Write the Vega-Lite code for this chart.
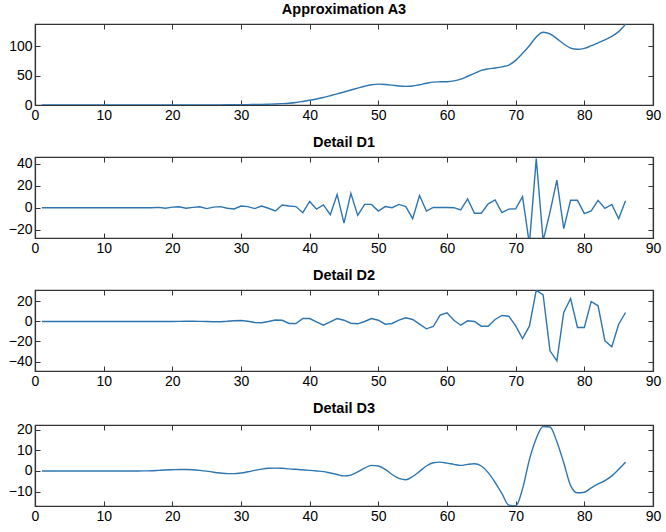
{
  "$schema": "https://vega.github.io/schema/vega-lite/v6.json",
  "description": "Wavelet decomposition: approximation A3 and details D1-D3",
  "padding": {"left": 7, "top": 1, "right": 2, "bottom": 2},
  "spacing": 11,
  "background": "white",
  "data": {
    "values": [
      {"x": 1, "a3": 0, "d1": 0, "d2": 0, "d3": 0},
      {"x": 2, "a3": 0, "d1": 0, "d2": 0, "d3": 0},
      {"x": 3, "a3": 0, "d1": 0, "d2": 0, "d3": 0},
      {"x": 4, "a3": 0, "d1": 0, "d2": 0, "d3": 0},
      {"x": 5, "a3": 0, "d1": 0, "d2": 0, "d3": 0},
      {"x": 6, "a3": 0, "d1": 0, "d2": 0, "d3": 0},
      {"x": 7, "a3": 0, "d1": 0, "d2": 0, "d3": 0},
      {"x": 8, "a3": 0, "d1": 0, "d2": 0, "d3": 0},
      {"x": 9, "a3": 0, "d1": 0, "d2": 0, "d3": 0},
      {"x": 10, "a3": 0, "d1": 0, "d2": 0, "d3": 0},
      {"x": 11, "a3": 0, "d1": 0, "d2": 0, "d3": 0},
      {"x": 12, "a3": 0, "d1": 0, "d2": 0, "d3": 0},
      {"x": 13, "a3": 0, "d1": 0, "d2": 0, "d3": 0},
      {"x": 14, "a3": 0, "d1": 0, "d2": 0, "d3": 0},
      {"x": 15, "a3": 0, "d1": 0, "d2": 0, "d3": 0},
      {"x": 16, "a3": 0, "d1": 0, "d2": 0, "d3": 0.05},
      {"x": 17, "a3": 0, "d1": 0, "d2": 0, "d3": 0.1},
      {"x": 18, "a3": 0, "d1": 0.3, "d2": 0, "d3": 0.3},
      {"x": 19, "a3": 0, "d1": -0.5, "d2": 0, "d3": 0.5},
      {"x": 20, "a3": 0, "d1": 0.5, "d2": 0, "d3": 0.6},
      {"x": 21, "a3": 0, "d1": 0.8, "d2": 0.1, "d3": 0.7},
      {"x": 22, "a3": 0, "d1": -0.5, "d2": 0.2, "d3": 0.7},
      {"x": 23, "a3": 0, "d1": 0.3, "d2": 0.2, "d3": 0.6},
      {"x": 24, "a3": 0, "d1": 0.8, "d2": 0.1, "d3": 0.3},
      {"x": 25, "a3": 0, "d1": -0.8, "d2": 0, "d3": -0.1},
      {"x": 26, "a3": 0.1, "d1": 0.5, "d2": -0.2, "d3": -0.6},
      {"x": 27, "a3": 0.2, "d1": 1, "d2": -0.2, "d3": -1},
      {"x": 28, "a3": 0.3, "d1": -0.5, "d2": 0.2, "d3": -1.3},
      {"x": 29, "a3": 0.4, "d1": -1.2, "d2": 0.8, "d3": -1.3},
      {"x": 30, "a3": 0.5, "d1": 1.5, "d2": 1, "d3": -1},
      {"x": 31, "a3": 0.7, "d1": 1, "d2": 0.3, "d3": -0.4},
      {"x": 32, "a3": 0.9, "d1": -0.8, "d2": -1, "d3": 0.3},
      {"x": 33, "a3": 1.1, "d1": 1.5, "d2": -1.3, "d3": 0.9},
      {"x": 34, "a3": 1.4, "d1": -0.5, "d2": 0, "d3": 1.3},
      {"x": 35, "a3": 1.8, "d1": -3, "d2": 1.5, "d3": 1.4},
      {"x": 36, "a3": 2.3, "d1": 2.5, "d2": 1.2, "d3": 1.3},
      {"x": 37, "a3": 3, "d1": 1.5, "d2": -2, "d3": 1},
      {"x": 38, "a3": 4.2, "d1": 1, "d2": -2, "d3": 0.8},
      {"x": 39, "a3": 6, "d1": -4.5, "d2": 3, "d3": 0.6},
      {"x": 40, "a3": 8, "d1": 5.7, "d2": 3, "d3": 0.3},
      {"x": 41, "a3": 10.3, "d1": -1.3, "d2": -0.3, "d3": 0},
      {"x": 42, "a3": 12.8, "d1": 2.5, "d2": -3.7, "d3": -0.3},
      {"x": 43, "a3": 15.8, "d1": -6.3, "d2": -0.3, "d3": -1},
      {"x": 44, "a3": 19, "d1": 12, "d2": 3, "d3": -1.7},
      {"x": 45, "a3": 22.2, "d1": -14, "d2": 1.3, "d3": -2.4},
      {"x": 46, "a3": 25.5, "d1": 13, "d2": -1.7, "d3": -2},
      {"x": 47, "a3": 28.8, "d1": -7, "d2": -2.3, "d3": -0.5},
      {"x": 48, "a3": 32, "d1": 3, "d2": 0, "d3": 1.4},
      {"x": 49, "a3": 34.5, "d1": 3, "d2": 3, "d3": 2.7},
      {"x": 50, "a3": 35.5, "d1": -3, "d2": 1.3, "d3": 2.4},
      {"x": 51, "a3": 35, "d1": 1, "d2": -2.7, "d3": 0.8},
      {"x": 52, "a3": 33.8, "d1": 0, "d2": -2, "d3": -1.7},
      {"x": 53, "a3": 32.3, "d1": 3, "d2": 1.3, "d3": -3.6},
      {"x": 54, "a3": 31.7, "d1": 1, "d2": 3.7, "d3": -4.3},
      {"x": 55, "a3": 32.3, "d1": -10, "d2": 2, "d3": -2.7},
      {"x": 56, "a3": 34.5, "d1": 11, "d2": -2.7, "d3": -0.2},
      {"x": 57, "a3": 37, "d1": -3, "d2": -7.3, "d3": 2.4},
      {"x": 58, "a3": 39, "d1": 0.3, "d2": -5, "d3": 4},
      {"x": 59, "a3": 39.5, "d1": 0.2, "d2": 6.3, "d3": 4.3},
      {"x": 60, "a3": 39.7, "d1": 0.2, "d2": 8.7, "d3": 3.8},
      {"x": 61, "a3": 41, "d1": 0, "d2": 1.3, "d3": 3.2},
      {"x": 62, "a3": 44, "d1": -2, "d2": -3.7, "d3": 2.7},
      {"x": 63, "a3": 49, "d1": 8, "d2": 0.7, "d3": 3.2},
      {"x": 64, "a3": 54, "d1": -5, "d2": 0, "d3": 3.5},
      {"x": 65, "a3": 59, "d1": -5, "d2": -4.7, "d3": 2.4},
      {"x": 66, "a3": 61.5, "d1": 3.5, "d2": -4.7, "d3": -0.8},
      {"x": 67, "a3": 63, "d1": 7, "d2": 2, "d3": -5.5},
      {"x": 68, "a3": 65, "d1": -4.5, "d2": 6, "d3": -11},
      {"x": 69, "a3": 68, "d1": -1.3, "d2": 5.3, "d3": -16.6},
      {"x": 70, "a3": 76, "d1": -1, "d2": -4.3, "d3": -17},
      {"x": 71, "a3": 88, "d1": 10, "d2": -17, "d3": -8.7},
      {"x": 72, "a3": 101, "d1": -33, "d2": -4.7, "d3": 5.5},
      {"x": 73, "a3": 116, "d1": 44.5, "d2": 31.3, "d3": 15.8},
      {"x": 74, "a3": 124, "d1": -30, "d2": 26.7, "d3": 21.6},
      {"x": 75, "a3": 121, "d1": -4, "d2": -29.3, "d3": 21.3},
      {"x": 76, "a3": 113, "d1": 25, "d2": -39.3, "d3": 14.2},
      {"x": 77, "a3": 104, "d1": -19, "d2": 9, "d3": 4},
      {"x": 78, "a3": 97, "d1": 6.7, "d2": 23, "d3": -7.1},
      {"x": 79, "a3": 95, "d1": 6.7, "d2": -6, "d3": -10.6},
      {"x": 80, "a3": 96.5, "d1": -5.4, "d2": -6, "d3": -10.3},
      {"x": 81, "a3": 101, "d1": -3, "d2": 20, "d3": -8.2},
      {"x": 82, "a3": 106, "d1": 6.7, "d2": 15.7, "d3": -6.3},
      {"x": 83, "a3": 111, "d1": -0.6, "d2": -19.3, "d3": -4.7},
      {"x": 84, "a3": 117, "d1": 3, "d2": -25.3, "d3": -2.4},
      {"x": 85, "a3": 125, "d1": -10, "d2": -2.7, "d3": 0.8},
      {"x": 86, "a3": 137.5, "d1": 6.3, "d2": 9, "d3": 4.3}
    ]
  },
  "vconcat": [
    {
      "title": "Approximation A3",
      "width": 618,
      "height": 81,
      "layer": [
        {
          "mark": {"type": "line", "color": "#2f75b0", "strokeWidth": 1.4, "interpolate": "monotone", "clip": true},
          "encoding": {
            "x": {"field": "x", "type": "quantitative", "scale": {"domain": [0, 90], "nice": false},
                  "axis": {"orient": "bottom", "values": [0, 10, 20, 30, 40, 50, 60, 70, 80, 90]}},
            "y": {"field": "a3", "type": "quantitative", "scale": {"domain": [0, 138], "nice": false, "zero": false},
                  "axis": {"orient": "left", "values": [0, 50, 100]}}
          }
        },
        {
          "mark": {"type": "line", "opacity": 0},
          "encoding": {
            "x": {"field": "x", "type": "quantitative",
                  "axis": {"orient": "top", "labels": false, "values": [0, 10, 20, 30, 40, 50, 60, 70, 80, 90]}},
            "y": {"field": "a3", "type": "quantitative", "axis": {"orient": "right", "labels": false, "values": [0, 50, 100]}}
          }
        }
      ],
      "resolve": {"axis": {"x": "independent", "y": "independent"}}
    },
    {
      "title": "Detail D1",
      "width": 618,
      "height": 81,
      "layer": [
        {
          "mark": {"type": "line", "color": "#2f75b0", "strokeWidth": 1.4, "clip": true},
          "encoding": {
            "x": {"field": "x", "type": "quantitative", "scale": {"domain": [0, 90], "nice": false},
                  "axis": {"orient": "bottom", "values": [0, 10, 20, 30, 40, 50, 60, 70, 80, 90]}},
            "y": {"field": "d1", "type": "quantitative", "scale": {"domain": [-27.5, 46], "nice": false, "zero": false},
                  "axis": {"orient": "left", "values": [-20, 0, 20, 40]}}
          }
        },
        {
          "mark": {"type": "line", "opacity": 0},
          "encoding": {
            "x": {"field": "x", "type": "quantitative",
                  "axis": {"orient": "top", "labels": false, "values": [0, 10, 20, 30, 40, 50, 60, 70, 80, 90]}},
            "y": {"field": "d1", "type": "quantitative", "axis": {"orient": "right", "labels": false, "values": [-20, 0, 20, 40]}}
          }
        }
      ],
      "resolve": {"axis": {"x": "independent", "y": "independent"}}
    },
    {
      "title": "Detail D2",
      "width": 618,
      "height": 81,
      "layer": [
        {
          "mark": {"type": "line", "color": "#2f75b0", "strokeWidth": 1.4, "clip": true},
          "encoding": {
            "x": {"field": "x", "type": "quantitative", "scale": {"domain": [0, 90], "nice": false},
                  "axis": {"orient": "bottom", "values": [0, 10, 20, 30, 40, 50, 60, 70, 80, 90]}},
            "y": {"field": "d2", "type": "quantitative", "scale": {"domain": [-49.5, 31.5], "nice": false, "zero": false},
                  "axis": {"orient": "left", "values": [-40, -20, 0, 20]}}
          }
        },
        {
          "mark": {"type": "line", "opacity": 0},
          "encoding": {
            "x": {"field": "x", "type": "quantitative",
                  "axis": {"orient": "top", "labels": false, "values": [0, 10, 20, 30, 40, 50, 60, 70, 80, 90]}},
            "y": {"field": "d2", "type": "quantitative", "axis": {"orient": "right", "labels": false, "values": [-40, -20, 0, 20]}}
          }
        }
      ],
      "resolve": {"axis": {"x": "independent", "y": "independent"}}
    },
    {
      "title": "Detail D3",
      "width": 618,
      "height": 81,
      "layer": [
        {
          "mark": {"type": "line", "color": "#2f75b0", "strokeWidth": 1.4, "interpolate": "monotone", "clip": true},
          "encoding": {
            "x": {"field": "x", "type": "quantitative", "scale": {"domain": [0, 90], "nice": false},
                  "axis": {"orient": "bottom", "values": [0, 10, 20, 30, 40, 50, 60, 70, 80, 90]}},
            "y": {"field": "d3", "type": "quantitative", "scale": {"domain": [-17, 22.3], "nice": false, "zero": false},
                  "axis": {"orient": "left", "values": [-10, 0, 10, 20]}}
          }
        },
        {
          "mark": {"type": "line", "opacity": 0},
          "encoding": {
            "x": {"field": "x", "type": "quantitative",
                  "axis": {"orient": "top", "labels": false, "values": [0, 10, 20, 30, 40, 50, 60, 70, 80, 90]}},
            "y": {"field": "d3", "type": "quantitative", "axis": {"orient": "right", "labels": false, "values": [-10, 0, 10, 20]}}
          }
        }
      ],
      "resolve": {"axis": {"x": "independent", "y": "independent"}}
    }
  ],
  "config": {
    "view": {"stroke": "#333", "strokeWidth": 1.2},
    "title": {"font": "Liberation Sans", "fontSize": 14.5, "fontWeight": "bold", "color": "#000", "offset": 6, "anchor": "middle"},
    "axis": {
      "title": null,
      "grid": false,
      "tickSize": -5,
      "tickColor": "#333",
      "domainColor": "#333",
      "domainWidth": 1.2,
      "labelFont": "Liberation Sans",
      "labelFontSize": 14,
      "labelColor": "#000",
      "labelPadding": 8,
      "labelFlush": false,
      "labelOverlap": false
    }
  }
}
